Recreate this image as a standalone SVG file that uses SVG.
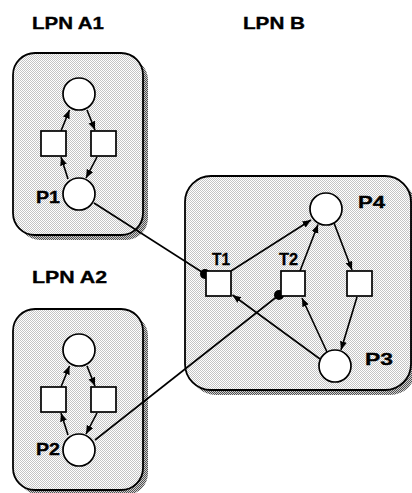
<svg xmlns="http://www.w3.org/2000/svg" width="412" height="493" viewBox="0 0 412 493">
  <defs>
    <!-- halftone fill for the net panels -->
    <pattern id="dots" patternUnits="userSpaceOnUse" width="2" height="2">
      <rect width="2" height="2" fill="#ffffff"/>
      <rect x="0" y="0" width="1" height="1" fill="#c4c4c4"/>
      <rect x="1" y="1" width="1" height="1" fill="#c4c4c4"/>
    </pattern>
    <!-- halftone fill for the drop shadows -->
    <pattern id="shade" patternUnits="userSpaceOnUse" width="2" height="2">
      <rect width="2" height="2" fill="#d0d0d0"/>
      <rect x="0" y="0" width="1" height="1" fill="#505050"/>
      <rect x="1" y="1" width="1" height="1" fill="#505050"/>
    </pattern>
    <marker id="arrow" markerUnits="userSpaceOnUse" markerWidth="10" markerHeight="8" refX="8.5" refY="3.5" orient="auto">
      <path d="M0,0 L8.5,3.5 L0,7 z" fill="#000"/>
    </marker>
  </defs>
  <style>
    .panel { fill: url(#dots); stroke: #000; stroke-width: 1.8; }
    .shadow { fill: url(#shade); stroke: none; }
    .place { fill: #fff; stroke: #000; stroke-width: 1.7; }
    .trans { fill: #fff; stroke: #000; stroke-width: 1.7; }
    .arc { stroke: #000; stroke-width: 1.6; fill: none; marker-end: url(#arrow); }
    .read { stroke: #000; stroke-width: 1.6; fill: none; }
    .label { font-family: "Liberation Sans", Arial, sans-serif; font-weight: bold; font-size: 16.5px; fill: #000; stroke: #000; stroke-width: 0.35; }
    .tlabel { font-family: "Liberation Sans", Arial, sans-serif; font-weight: bold; font-size: 16px; fill: #000; stroke: #000; stroke-width: 0.3; }
  </style>

  <rect width="412" height="493" fill="#fff"/>

  <!-- titles -->
  <text class="label" x="32" y="29" textLength="72" lengthAdjust="spacingAndGlyphs">LPN A1</text>
  <text class="label" x="243" y="29" textLength="62" lengthAdjust="spacingAndGlyphs">LPN B</text>
  <text class="label" x="32" y="283" textLength="75" lengthAdjust="spacingAndGlyphs">LPN A2</text>

  <!-- panels -->
  <g id="panel-a1">
    <rect class="shadow" x="18" y="58" width="130" height="182" rx="22"/>
    <rect class="panel" x="13" y="53" width="130" height="182" rx="22"/>
  </g>
  <g id="panel-a2">
    <rect class="shadow" x="18" y="314" width="130" height="181" rx="22"/>
    <rect class="panel" x="13" y="309" width="130" height="181" rx="22"/>
  </g>
  <g id="panel-b">
    <rect class="shadow" x="190" y="181" width="226" height="214" rx="26"/>
    <rect class="panel" x="185" y="176" width="226" height="214" rx="26"/>
  </g>

  <!-- connectors -->
  <g id="connectors">
    <!-- LPN A1 cycle -->
    <line class="arc" x1="61" y1="131" x2="69.5" y2="110"/>
    <line class="arc" x1="87" y1="110" x2="95" y2="130"/>
    <line class="arc" x1="97" y1="157" x2="86" y2="178"/>
    <line class="arc" x1="68" y1="179" x2="61" y2="157"/>
    <!-- LPN A2 cycle -->
    <line class="arc" x1="61" y1="387" x2="69.5" y2="366"/>
    <line class="arc" x1="87" y1="366" x2="95" y2="386"/>
    <line class="arc" x1="97" y1="413" x2="86" y2="434"/>
    <line class="arc" x1="68" y1="435" x2="61" y2="413"/>
    <!-- LPN B -->
    <line class="arc" x1="231" y1="271" x2="311" y2="220"/>
    <line class="arc" x1="300" y1="271" x2="318" y2="224.5"/>
    <line class="arc" x1="334" y1="223" x2="352" y2="270"/>
    <line class="arc" x1="357" y1="297" x2="341" y2="350"/>
    <line class="arc" x1="327" y1="352" x2="302" y2="298"/>
    <line class="arc" x1="320" y1="359" x2="232.5" y2="295"/>
    <!-- read arcs into LPN B -->
    <line class="read" x1="94" y1="203" x2="205" y2="274"/>
    <circle cx="205" cy="274" r="5" fill="#000"/>
    <line class="read" x1="95" y1="440" x2="279" y2="295"/>
    <circle cx="279" cy="295" r="5" fill="#000"/>
  </g>

  <!-- LPN A1 nodes -->
  <g id="a1-top"><circle class="place" cx="79" cy="94" r="16"/></g>
  <g id="a1-left"><rect class="trans" x="41" y="131" width="25" height="25"/></g>
  <g id="a1-right"><rect class="trans" x="91" y="131" width="25" height="25"/></g>
  <g id="p1">
    <circle class="place" cx="79" cy="194" r="16"/>
    <text class="label" x="36" y="203" textLength="24" lengthAdjust="spacingAndGlyphs">P1</text>
  </g>

  <!-- LPN A2 nodes -->
  <g id="a2-top"><circle class="place" cx="79" cy="350" r="16"/></g>
  <g id="a2-left"><rect class="trans" x="41" y="387" width="25" height="25"/></g>
  <g id="a2-right"><rect class="trans" x="91" y="387" width="25" height="25"/></g>
  <g id="p2">
    <circle class="place" cx="79" cy="450" r="16"/>
    <text class="label" x="36" y="455" textLength="24" lengthAdjust="spacingAndGlyphs">P2</text>
  </g>

  <!-- LPN B nodes -->
  <g id="p4">
    <circle class="place" cx="326" cy="209" r="16"/>
    <text class="label" x="358" y="208" textLength="27" lengthAdjust="spacingAndGlyphs">P4</text>
  </g>
  <g id="t1">
    <rect class="trans" x="206" y="271" width="25" height="25"/>
    <text class="tlabel" x="212" y="265" textLength="18" lengthAdjust="spacingAndGlyphs">T1</text>
  </g>
  <g id="t2">
    <rect class="trans" x="281" y="271" width="24" height="25"/>
    <text class="tlabel" x="279" y="265" textLength="19" lengthAdjust="spacingAndGlyphs">T2</text>
  </g>
  <g id="b-right"><rect class="trans" x="347" y="271" width="25" height="25"/></g>
  <g id="p3">
    <circle class="place" cx="335" cy="366" r="16"/>
    <text class="label" x="365" y="365" textLength="28" lengthAdjust="spacingAndGlyphs">P3</text>
  </g>
</svg>
